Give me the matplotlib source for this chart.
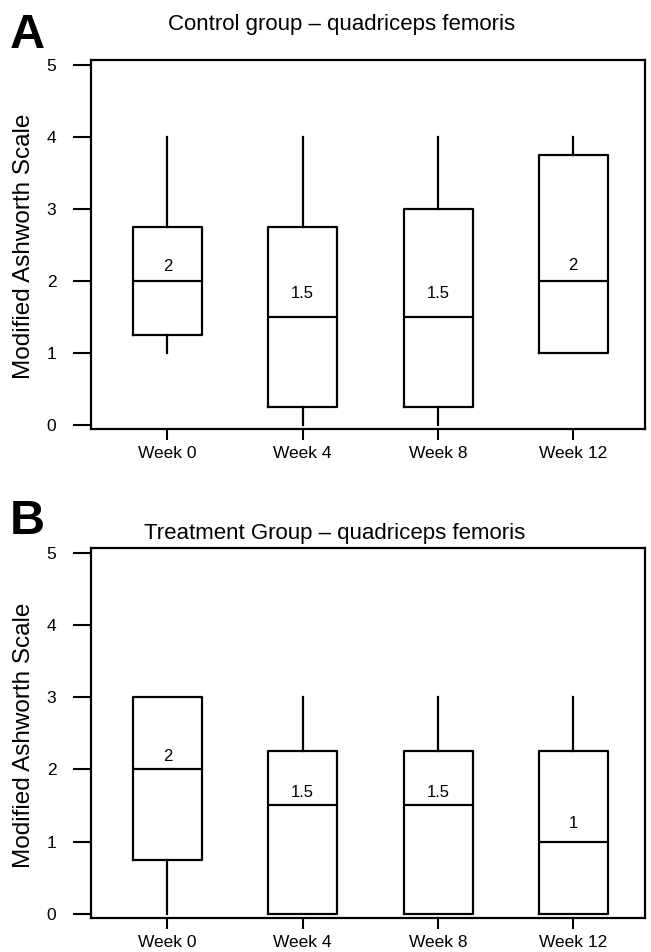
import matplotlib
matplotlib.use("Agg")
import matplotlib.pyplot as plt

plt.rcParams['font.family'] = ['Liberation Sans', 'DejaVu Sans']

weeks = ["Week 0", "Week 4", "Week 8", "Week 12"]

# control group - quadriceps femoris
ctrl_low = [1, 0, 0, 1]
ctrl_q1 = [1.25, 0.25, 0.25, 1]
ctrl_med = [2, 1.5, 1.5, 2]
ctrl_q3 = [2.75, 2.75, 3, 3.75]
ctrl_high = [4, 4, 4, 4]

# treatment group - quadriceps femoris
trt_low = [0, 0, 0, 0]
trt_q1 = [0.75, 0, 0, 0]
trt_med = [2, 1.5, 1.5, 1]
trt_q3 = [3, 2.25, 2.25, 2.25]
trt_high = [3, 3, 3, 3]

W, H = 651, 952
fig = plt.figure(figsize=(W / 100, H / 100), dpi=100)


def box_panel(rect, low, q1, med, q3, high, label_off):
    ax = fig.add_axes(rect)
    stats = []
    for i in range(len(weeks)):
        stats.append({"whislo": low[i], "q1": q1[i], "med": med[i],
                      "q3": q3[i], "whishi": high[i], "label": weeks[i]})
    lw = 1.6
    ax.bxp(stats, positions=range(1, 5), widths=0.51, showcaps=False,
           showfliers=False,
           boxprops=dict(color="black", linewidth=lw),
           whiskerprops=dict(color="black", linewidth=lw),
           medianprops=dict(color="black", linewidth=lw))
    for i, m in enumerate(med):
        ax.annotate("{0:g}".format(m), (i + 1, m), xytext=(0, label_off[i]),
                    textcoords="offset points", ha="center", va="center",
                    fontsize=12)
    ax.set_xlim(0.435, 4.53)
    ax.set_ylim(-0.06, 5.07)
    ax.set_yticks([0, 1, 2, 3, 4, 5])
    ax.tick_params(axis="y", direction="out", length=13, width=1.5,
                   pad=12, labelsize=12.5)
    ax.tick_params(axis="x", direction="out", length=8, width=1.5,
                   pad=4, labelsize=12.5)
    for s in ax.spines.values():
        s.set_linewidth(1.6)
    return ax


axA = box_panel([91 / W, 1 - 429 / H, 554 / W, 369 / H],
                ctrl_low, ctrl_q1, ctrl_med, ctrl_q3, ctrl_high,
                [10, 16.5, 16.5, 11])
axB = box_panel([91 / W, 1 - 918 / H, 554 / W, 370 / H],
                trt_low, trt_q1, trt_med, trt_q3, trt_high,
                [9.5, 9, 9, 13])

fig.text(24 / W, 1 - 246 / H, "Modified Ashworth Scale", rotation=90,
         ha="center", va="center", fontsize=17.5)
fig.text(24 / W, 1 - 735 / H, "Modified Ashworth Scale", rotation=90,
         ha="center", va="center", fontsize=17.5)

fig.text(342 / W, 1 - 30 / H, "Control group \u2013 quadriceps femoris",
         ha="center", va="baseline", fontsize=16)
fig.text(335 / W, 1 - 539 / H, "Treatment Group \u2013 quadriceps femoris",
         ha="center", va="baseline", fontsize=16)

fig.text(10 / W, 1 - 48 / H, "A", fontsize=35, fontweight="bold",
         ha="left", va="baseline")
fig.text(10 / W, 1 - 534 / H, "B", fontsize=35, fontweight="bold",
         ha="left", va="baseline")

fig.savefig("out.png", dpi=100)
